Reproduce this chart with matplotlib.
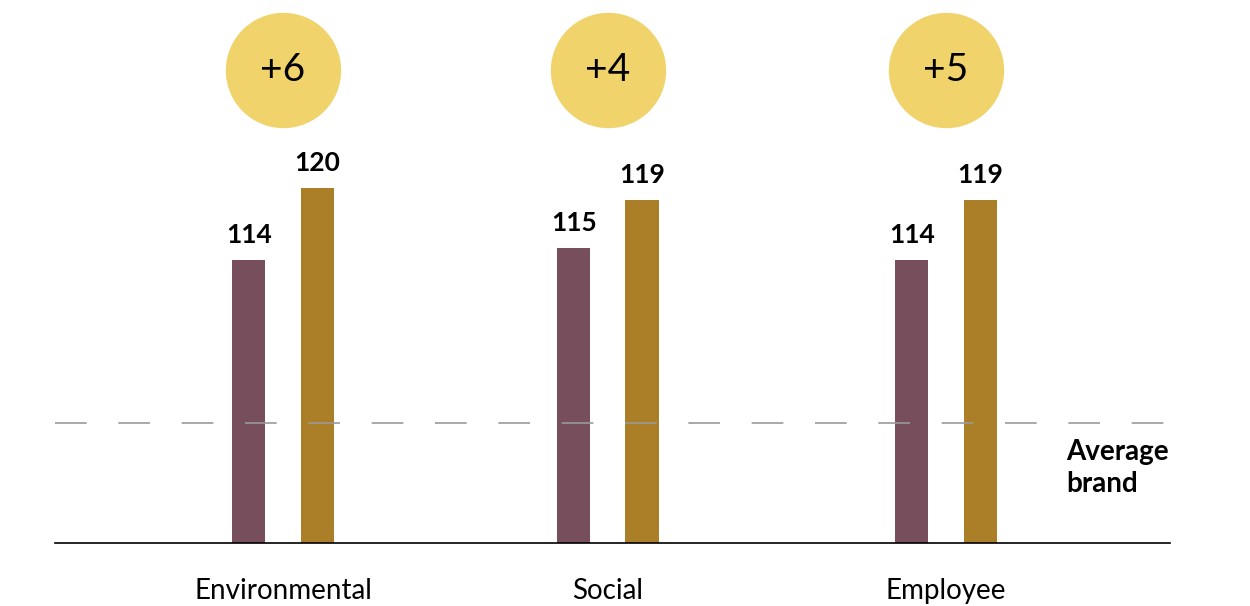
import numpy as np
import matplotlib.pyplot as plt

plt.rcParams['font.family'] = ['Lato', 'DejaVu Sans']

# data
categories = ['Environmental', 'Social', 'Employee']
brand_a = [114, 115, 114]
brand_b = [120, 119, 119]
diffs = ['+6', '+4', '+5']
average = 100

plum = '#774e5b'
gold = '#aa7f28'
circle = '#f0d36b'

fig = plt.figure(figsize=(12.5, 6.06), dpi=100)
ax = fig.add_axes([55 / 1250, 63 / 606, 1115 / 1250, 543 / 606])

x = np.array([0, 0.98, 2.0])
w = 0.1
off = 0.103
ax.bar(x - off, brand_a, width=w, color=plum)
ax.bar(x + off, brand_b, width=w, color=gold)

for xi, v in zip(x - off, brand_a):
    ax.text(xi, v + 1.1, str(v), ha='center', va='bottom', fontsize=19,
            fontweight='bold')
for xi, v in zip(x + off, brand_b):
    ax.text(xi, v + 1.1, str(v), ha='center', va='bottom', fontsize=19,
            fontweight='bold')

# difference bubbles
ax.scatter(x, [129.9] * len(x), s=6900, color=circle, clip_on=False, zorder=3,
           linewidths=0)
for xi, d in zip(x, diffs):
    ax.text(xi, 129.9, d, ha='center', va='center', fontsize=28,
            fontweight='normal', zorder=4)

ax.axhline(average + 0.4, color='#9a9a9a', linewidth=1.2, dashes=(19, 19),
           zorder=5)
ax.text(2.363, average - 0.9, 'Average\nbrand', ha='left', va='top',
        fontsize=20, fontweight='bold', linespacing=1.3)

ax.set_ylim(90.4, 135.7)
ax.set_xlim(-0.688, 2.676)
ax.set_yticks([])
ax.set_xticks(x)
ax.set_xticklabels(categories, fontsize=20)
ax.tick_params(axis='x', length=0, pad=25)
for s in ['top', 'right', 'left']:
    ax.spines[s].set_visible(False)
ax.spines['bottom'].set_linewidth(1.2)

fig.savefig('out.png', dpi=100)
